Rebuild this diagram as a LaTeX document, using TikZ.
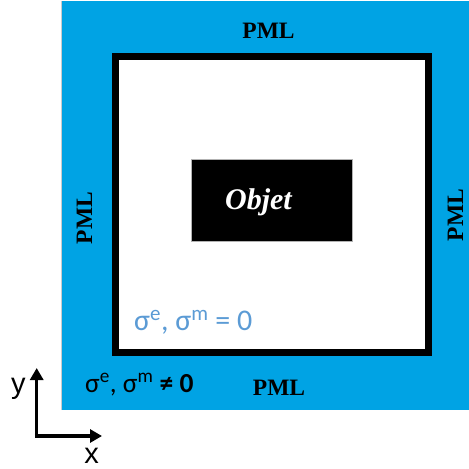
\documentclass[tikz,border=0pt]{standalone}
\usepackage{fontspec}
\setmainfont{Liberation Serif}
\newfontfamily\calib{Carlito}
\newfontfamily\arialf{Liberation Sans}
\usetikzlibrary{arrows.meta}
\definecolor{pmlblue}{RGB}{0,163,228}
\definecolor{lightblue}{RGB}{91,155,213}
\tikzset{
  pmltext/.style={font=\fontsize{23.5}{26}\selectfont\bfseries, inner sep=0pt, anchor=base},
  sigtext/.style={font=\calib\fontsize{27.5}{30}\selectfont, inner sep=0pt, anchor=base west},
  axlabel/.style={font=\arialf\fontsize{29}{32}\selectfont, inner sep=0pt, anchor=base},
  axis/.style={line width=3.5pt, -{Triangle[length=12pt,width=13pt]}}
}
\begin{document}
\begin{tikzpicture}[x=1pt,y=-1pt]
\useasboundingbox (0,0) rectangle (469,469);
% PML region
\fill[pmlblue] (61,1) rectangle (469,410);
\draw[gray!40, line width=0.8pt] (61,1) -- (61,410);
% inner domain
\draw[line width=7pt, fill=white] (115.5,56.5) rectangle (428.5,352.5);
% object
\node[draw=gray!60, line width=0.6pt, fill=black, minimum width=161.5pt, minimum height=82.4pt, inner sep=0pt] (obj) at (271.85,200.5) {};
\node[font=\fontsize{30}{33}\selectfont\bfseries\itshape, text=white, inner sep=0pt, anchor=base] (objlbl) at (258.5,209) {Objet};
% PML labels
\node[pmltext] (ptop) at (268.5,38.3) {PML};
\node[pmltext] (pbot) at (279,395) {PML};
\node[pmltext, rotate=90] (pleft) at (92,218) {PML};
\node[pmltext, rotate=90] (pright) at (463,215) {PML};
% sigma texts
\node[sigtext, text=lightblue, font=\calib\fontsize{30}{33}\selectfont] (sin) at (134,330) {σ\textsuperscript{e}, σ\textsuperscript{m} = 0};
\node[sigtext] (sout) at (85,392) {σ\textsuperscript{e}, σ\textsuperscript{m} \textbf{≠ 0}};
% axes
\coordinate (o) at (36.7,436);
\coordinate (ytip) at (36.7,368);
\coordinate (xtip) at (102,436);
\draw[axis] ([yshift=-1.75pt]o) -- (ytip);
\draw[axis] ([xshift=-1.75pt]o) -- (xtip);
\node[axlabel] (ylbl) at (18.5,393) {y};
\node[axlabel] (xlbl) at (91.5,463) {x};
\end{tikzpicture}
\end{document}
